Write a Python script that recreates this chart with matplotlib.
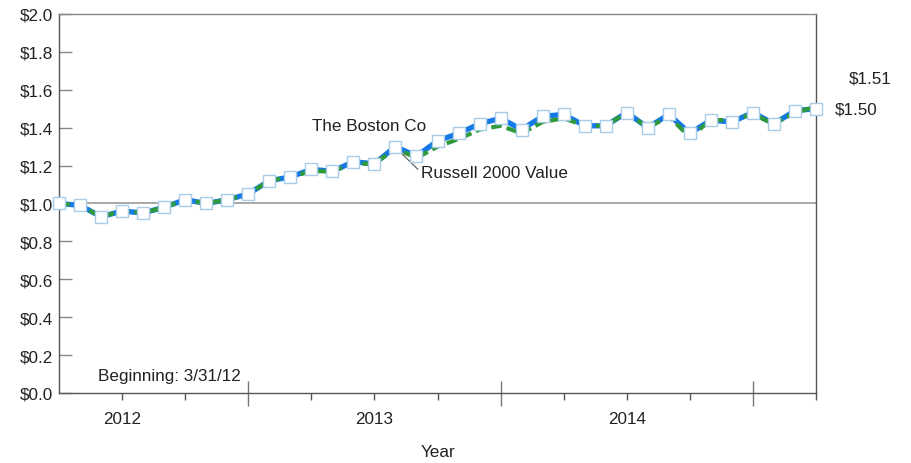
import matplotlib
matplotlib.use("Agg")
import matplotlib.pyplot as plt
from matplotlib.ticker import FormatStrFormatter

plt.rcParams["font.family"] = ["Liberation Sans", "DejaVu Sans"]
FS = 12.3

# monthly growth of $1, beginning 3/31/12 (month 0) through 3/31/15 (month 36)
months = list(range(37))
boston = [1.00, 0.99, 0.93, 0.96, 0.95, 0.98, 1.02, 1.00, 1.02, 1.05,
          1.12, 1.14, 1.18, 1.17, 1.22, 1.21, 1.30, 1.25, 1.33, 1.37,
          1.42, 1.45, 1.39, 1.46, 1.47, 1.41, 1.41, 1.48, 1.40, 1.47,
          1.37, 1.44, 1.43, 1.48, 1.42, 1.49, 1.50]
russell = [1.00, 0.99, 0.93, 0.96, 0.95, 0.98, 1.02, 1.00, 1.02, 1.05,
           1.12, 1.14, 1.17, 1.17, 1.21, 1.21, 1.29, 1.24, 1.30, 1.34,
           1.39, 1.41, 1.37, 1.43, 1.45, 1.41, 1.41, 1.48, 1.40, 1.46,
           1.35, 1.44, 1.44, 1.47, 1.42, 1.48, 1.51]
year_labels = ["2012", "2013", "2014"]
year_label_pos = [3, 15, 27]
year_ends = [9, 21, 33]

fig = plt.figure(figsize=(9.11, 4.64), dpi=100)
ax = fig.add_axes([0.0648, 0.1509, 0.8309, 0.8168])

ax.axhline(1.0, color="#999999", lw=1.2, zorder=1)
ax.plot(months, boston, color="#1478e6", lw=3.8, zorder=2, solid_capstyle="butt")
ax.plot(months, russell, color="#2e9a3a", lw=3.0, zorder=3, dashes=(2.6, 1.2))
ax.plot(months, boston, ls="none", marker="s", markersize=8.5, markerfacecolor="white",
        markeredgecolor="#a9cde9", markeredgewidth=1.0, zorder=4, clip_on=False)

ax.set_xlim(0, 36)
ax.set_ylim(0, 2.0)

ax.set_yticks([i * 0.2 for i in range(11)])
ax.yaxis.set_major_formatter(FormatStrFormatter("$%.1f"))
ax.tick_params(axis="y", direction="in", length=9, width=1, color="#888888",
               labelsize=FS, labelcolor="#222222", pad=4)

# year boundaries get long ticks that cross the axis, quarters get short ones
ax.set_xticks(year_ends)
ax.set_xticklabels([])
ax.tick_params(axis="x", which="major", direction="inout", length=18, width=1, color="#777777")
quarters = [q for q in range(3, 37, 3) if q not in year_ends]
ax.set_xticks(quarters, minor=True)
ax.set_xticklabels([year_labels[year_label_pos.index(q)] if q in year_label_pos else "" for q in quarters],
                   minor=True)
ax.tick_params(axis="x", which="minor", direction="out", length=5, width=1, color="#555555",
               labelsize=FS, labelcolor="#222222", pad=8)

for side in ["left", "bottom", "right"]:
    ax.spines[side].set_color("#555555")
ax.spines["top"].set_color("#888888")
for sp in ax.spines.values():
    sp.set_linewidth(1.0)

ax.text(12.05, 1.41, "The Boston Co", fontsize=FS, color="#222222", va="center")
ax.annotate("Russell 2000 Value", xy=(16.1, 1.285), xytext=(17.2, 1.166),
            fontsize=FS, color="#222222", va="center",
            arrowprops=dict(arrowstyle="-", color="#555555", lw=0.8, shrinkA=0, shrinkB=0,
                            relpos=(0, 0.5)))
ax.text(1.86, 0.09, "Beginning: 3/31/12", fontsize=FS, color="#222222", va="center")
ax.text(37.57, 1.662, "$%.2f" % russell[-1], fontsize=FS, color="#222222", va="center", clip_on=False)
ax.text(36.9, 1.499, "$%.2f" % boston[-1], fontsize=FS, color="#222222", va="center", clip_on=False)

fig.text(0.481, 0.024, "Year", fontsize=FS, color="#222222", ha="center", va="center")

fig.savefig("out.png", dpi=100)
